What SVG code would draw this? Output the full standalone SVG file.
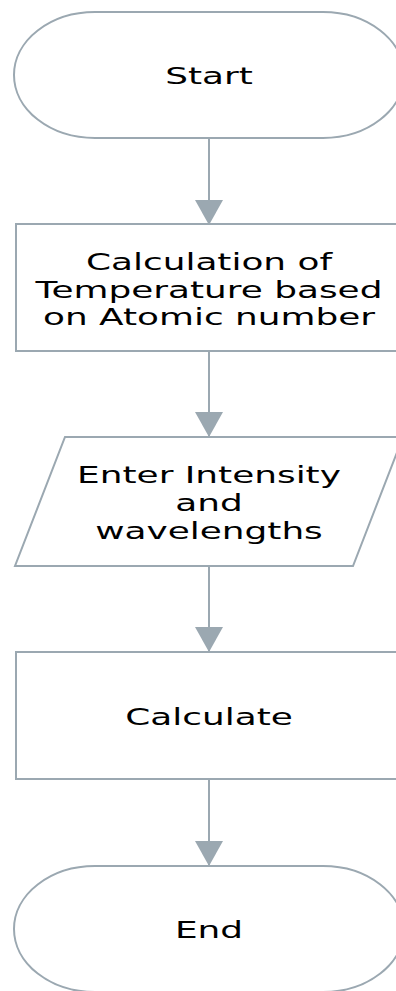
<svg xmlns="http://www.w3.org/2000/svg" width="396" height="991" viewBox="0 0 396 991">
<style>
.shape{fill:#ffffff;stroke:#9ba8b1;stroke-width:2}
.conn{stroke:#9ba8b1;stroke-width:2;fill:none}
.lbl{font-family:"DejaVu Sans","Verdana",sans-serif;font-size:23px;fill:#000000;text-anchor:middle}
</style>
<defs>
<marker id="arrow" markerUnits="userSpaceOnUse" viewBox="0 0 25 28" markerWidth="25" markerHeight="28" refX="25" refY="14" orient="auto">
<path d="M0,0 L25,14 L0,28 Z" fill="#9ba8b1"/>
</marker>
</defs>
<rect width="396" height="991" fill="#ffffff"/>
<g id="connectors">
<line class="conn" x1="209" y1="138" x2="209" y2="225" marker-end="url(#arrow)"/>
<line class="conn" x1="209" y1="351" x2="209" y2="437" marker-end="url(#arrow)"/>
<line class="conn" x1="209" y1="566" x2="209" y2="652" marker-end="url(#arrow)"/>
<line class="conn" x1="209" y1="779" x2="209" y2="866" marker-end="url(#arrow)"/>
</g>
<g id="start">
<path class="shape" d="M95,12 H323 A81,63 0 0 1 323,138 H95 A81,63 0 0 1 95,12 Z"/>
<text class="lbl" transform="translate(209,84) scale(1.56,1)">Start</text>
</g>
<g id="calc-temp">
<rect class="shape" x="16" y="224" width="386" height="127"/>
<text class="lbl" transform="translate(209,270) scale(1.56,1)">Calculation of</text>
<text class="lbl" transform="translate(209,297.5) scale(1.56,1)">Temperature based</text>
<text class="lbl" transform="translate(209,325) scale(1.56,1)">on Atomic number</text>
</g>
<g id="enter-input">
<polygon class="shape" points="65,437 403,437 353,566 15,566"/>
<text class="lbl" transform="translate(209,483) scale(1.56,1)">Enter Intensity</text>
<text class="lbl" transform="translate(209,511) scale(1.56,1)">and</text>
<text class="lbl" transform="translate(209,539) scale(1.56,1)">wavelengths</text>
</g>
<g id="calculate">
<rect class="shape" x="16" y="652" width="386" height="127"/>
<text class="lbl" transform="translate(209,725) scale(1.56,1)">Calculate</text>
</g>
<g id="end">
<path class="shape" d="M95,866 H323 A81,63 0 0 1 323,992 H95 A81,63 0 0 1 95,866 Z"/>
<text class="lbl" transform="translate(209,938) scale(1.56,1)">End</text>
</g>
</svg>
